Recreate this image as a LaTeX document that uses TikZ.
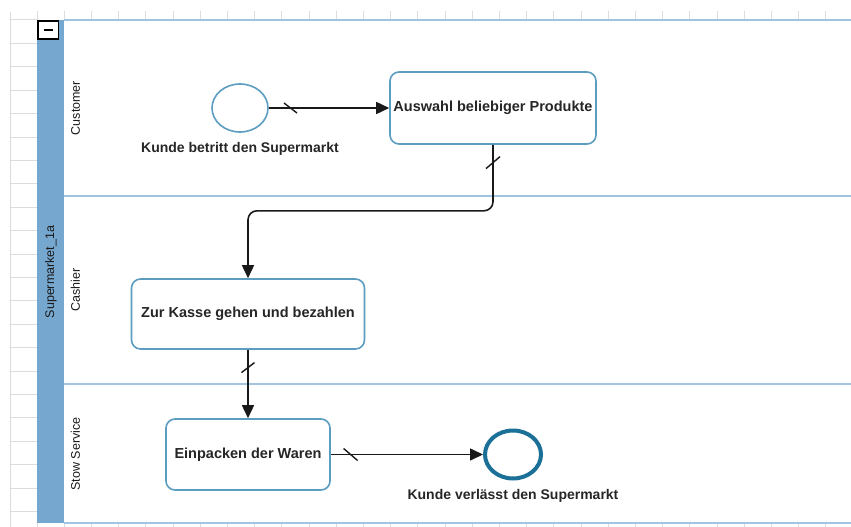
\documentclass[tikz,border=0pt]{standalone}
\usepackage{fontspec}
\setmainfont{Liberation Sans}
\usepackage{xcolor}
\usetikzlibrary{shapes.geometric, arrows.meta, positioning, calc}
\definecolor{poolblue}{RGB}{118,167,207}
\definecolor{laneline}{RGB}{160,196,226}
\definecolor{taskblue}{RGB}{92,156,192}
\definecolor{endblue}{RGB}{27,112,151}
\definecolor{gridgray}{RGB}{220,220,220}
\tikzset{
  task/.style={rectangle, draw=taskblue, fill=white, rounded corners=9pt,
               line width=1.6pt, align=center, inner sep=1pt, text=black!85,
               font=\fontsize{14.5}{17}\selectfont\bfseries},
  startev/.style={ellipse, draw=taskblue, fill=white, line width=1.6pt,
                  minimum width=56pt, minimum height=48pt, inner sep=0pt},
  endev/.style={ellipse, draw=endblue, fill=white, line width=4pt,
                minimum width=56pt, minimum height=48pt, inner sep=0pt},
  evlabel/.style={text=black!85, font=\fontsize{14}{16}\selectfont\bfseries},
  lanelbl/.style={rotate=90, text=black!90, font=\fontsize{12.5}{15}\selectfont},
  flow/.style={-{Triangle[length=13pt, width=12pt]}, draw=black!90,
               line width=1.6pt, rounded corners=9pt},
  slash/.style={draw=black!90, line width=1.4pt},
}

\begin{document}
\begin{tikzpicture}[x=1pt, y=-1pt]
  \useasboundingbox (0,0) rectangle (851,527);

  % ruler and grid
  \draw[gridgray, line width=1pt] (10,12) -- (10,527);
  \foreach \k in {0,...,21}
    \draw[gridgray, line width=1pt] (10,20+23.4*\k) -- (37,20+23.4*\k);
  \foreach \k in {0,...,29}{
    \draw[gridgray, line width=1pt] (37+27.2*\k,11) -- (37+27.2*\k,20);
    \draw[gridgray, line width=1pt] (37+27.2*\k,523) -- (37+27.2*\k,527);
  }

  % pool and lanes
  \fill[poolblue] (37,20) rectangle (64,523);
  \foreach \y in {20,196,384,523}
    \draw[laneline, line width=1.3pt] (64,\y) -- (851,\y);
  \draw[black, fill=white, line width=1.3pt] (38,21) rectangle (58.5,39);
  \draw[black, line width=1.5pt] (43.5,30) -- (53,30);
  \node[lanelbl] (pool) at (51,272) {Supermarket\_1a};
  \node[lanelbl] (customer) at (75.5,108) {Customer};
  \node[lanelbl] (cashier) at (75.5,290) {Cashier};
  \node[lanelbl] (stow) at (75.5,454) {Stow Service};

  % flow objects
  \node[startev] (start) at (240,108) {};
  \node[evlabel, below=6pt of start] (startlbl) {Kunde betritt den Supermarkt};
  \node[task, minimum width=206pt, minimum height=72pt] (select) at (493,108)
    {Auswahl beliebiger Produkte};
  \node[task, minimum width=233pt, minimum height=70pt] (pay) at (248,314)
    {Zur Kasse gehen und bezahlen};
  \node[task, minimum width=164pt, minimum height=71pt] (pack) at (248,454.5)
    {Einpacken der Waren};
  \node[endev] (finish) at (513,454.5) {};
  \node[evlabel, below=5pt of finish] (finishlbl) {Kunde verl\"asst den Supermarkt};

  % sequence flows
  \draw[flow] (start) -- coordinate[pos=0.18] (s1) (select);
  \draw[flow] (select.south) -- coordinate[pos=0.27] (s2) ++(0,66) -| (pay.north);
  \draw[flow] (pay) -- coordinate[pos=0.26] (s3) (pack);
  \draw[flow] (pack) -- coordinate[pos=0.13] (s4) (finish);

  \draw[slash] ($(s1)+(-6.5,-5)$) -- ($(s1)+(6.5,5)$);
  \draw[slash] ($(s2)+(-7,6)$) -- ($(s2)+(7,-6)$);
  \draw[slash] ($(s3)+(-6.5,5)$) -- ($(s3)+(6.5,-5)$);
  \draw[slash] ($(s4)+(-7,-6)$) -- ($(s4)+(7,6)$);
\end{tikzpicture}
\end{document}
